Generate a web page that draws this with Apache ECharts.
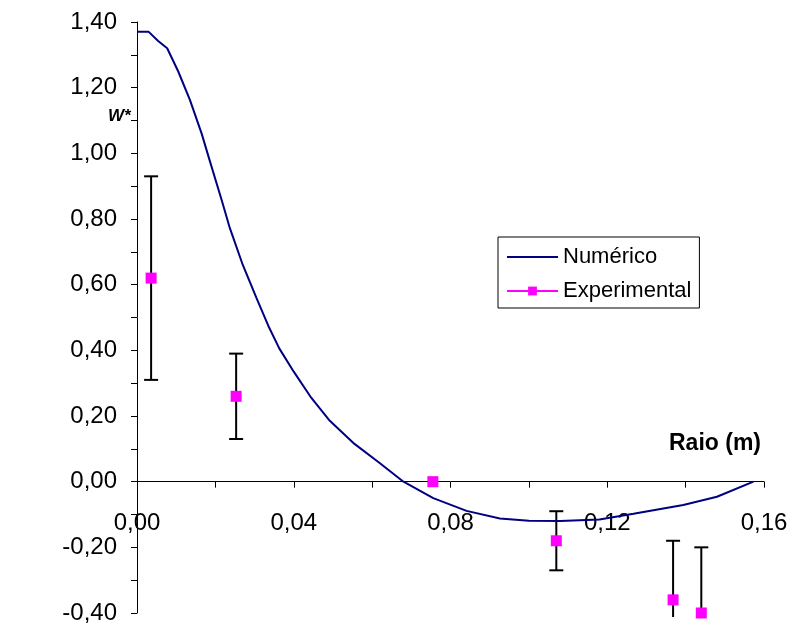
<!DOCTYPE html>
<html>
<head>
<meta charset="utf-8">
<script src="https://cdn.jsdelivr.net/npm/echarts@6/dist/echarts.min.js"></script>
<style>
html,body{margin:0;padding:0;background:#fff;}
#chart{width:792px;height:630px;}
</style>
</head>
<body>
<div id="chart"></div>
<script>
// Numerical curve (Raio in m, W*)
var numX = [0, 0.003, 0.0054, 0.0077, 0.0105, 0.0135, 0.0165, 0.0185, 0.0216, 0.0237, 0.027, 0.0305, 0.0335, 0.0363, 0.040, 0.0445, 0.049, 0.0555, 0.062, 0.068, 0.0756, 0.0841, 0.0926, 0.100, 0.108, 0.118, 0.1267, 0.1394, 0.148, 0.1573];
var numY = [1.37, 1.37, 1.342, 1.32, 1.25, 1.163, 1.06, 0.98, 0.858, 0.772, 0.66, 0.559, 0.475, 0.406, 0.335, 0.255, 0.188, 0.115, 0.056, 0.0, -0.05, -0.089, -0.112, -0.119, -0.12, -0.115, -0.098, -0.071, -0.046, 0.0];
// Experimental points with error (half-width)
var expX = [0.0036, 0.0253, 0.0755, 0.107, 0.1368, 0.144];
var expY = [0.62, 0.26, 0.00, -0.18, -0.36, -0.40];
var expErr = [0.31, 0.13, 0.00, 0.09, 0.18, 0.20];
// Axis ticks
var xTicks = {min: 0, max: 0.16, interval: 0.04};
var yTicks = {min: -0.4, max: 1.4, interval: 0.2};

var numData = numX.map(function (x, i) { return [x, numY[i]]; });
var expData = expX.map(function (x, i) { return [x, expY[i]]; });
var errData = expX.map(function (x, i) { return [x, expY[i] - expErr[i], expY[i] + expErr[i]]; });

function fmt(v) { return v.toFixed(2).replace('.', ','); }

var chart = echarts.init(document.getElementById('chart'), null, {renderer: 'canvas'});
var FONT = 'Liberation Sans, Arial, sans-serif';

chart.setOption({
  animation: false,
  backgroundColor: '#fff',
  grid: {left: 137, right: 28, top: 22, bottom: 17, containLabel: false, outerBoundsMode: 'none'},
  xAxis: {
    type: 'value',
    min: xTicks.min, max: xTicks.max, interval: xTicks.interval,
    axisLine: {onZero: true, lineStyle: {color: '#000', width: 1}},
    axisTick: {show: true, inside: false, length: 6, lineStyle: {color: '#000'}},
    minorTick: {show: true, splitNumber: 2, length: 6, lineStyle: {color: '#000'}},
    splitLine: {show: false},
    axisLabel: {formatter: fmt, color: '#000', fontSize: 24, fontFamily: FONT, margin: -102}
  },
  yAxis: {
    type: 'value',
    min: yTicks.min, max: yTicks.max, interval: yTicks.interval,
    axisLine: {show: true, onZero: false, lineStyle: {color: '#000', width: 1}},
    axisTick: {show: true, inside: false, length: 6, lineStyle: {color: '#000'}},
    minorTick: {show: true, splitNumber: 2, length: 6, lineStyle: {color: '#000'}},
    splitLine: {show: false},
    axisLabel: {formatter: fmt, color: '#000', fontSize: 24, fontFamily: FONT, margin: 20}
  },
  legend: {
    orient: 'vertical',
    left: 498, top: 237,
    padding: [9, 8, 6, 8],
    itemGap: 12,
    itemWidth: 51, itemHeight: 11,
    borderColor: '#000', borderWidth: 1,
    backgroundColor: '#fff',
    textStyle: {fontSize: 22, fontFamily: FONT, color: '#000'},
    data: [
      {name: 'Numérico', itemStyle: {opacity: 0}},
      {name: 'Experimental', lineStyle: {color: '#FF00FF', width: 2, opacity: 1}}
    ]
  },
  graphic: [
    {type: 'text', left: 108, top: 108, style: {text: 'W*', font: 'italic bold 17px ' + FONT, fill: '#000'}},
    {type: 'text', left: 669, top: 432, style: {text: 'Raio (m)', font: 'bold 23px ' + FONT, fill: '#000'}}
  ],
  series: [
    {
      name: 'Numérico',
      type: 'line',
      data: numData,
      smooth: false,
      symbol: 'none',
      lineStyle: {color: '#000080', width: 2},
      itemStyle: {color: '#000080'},
      z: 3
    },
    {
      name: 'errbars',
      type: 'custom',
      data: errData,
      clip: false,
      z: 2,
      renderItem: function (params, api) {
        var x = api.value(0);
        var lo = api.value(1), hi = api.value(2);
        if (hi === lo) return null;
        var cs = params.coordSys;
        var bottomLimit = cs.y + cs.height + 4;
        var pHi = api.coord([x, hi]);
        var pLo = api.coord([x, lo]);
        var loY = pLo[1], loCap = true;
        if (loY > bottomLimit) { loY = bottomLimit; loCap = false; }
        var hw = 7;
        var children = [
          {type: 'line', shape: {x1: pHi[0], y1: pHi[1], x2: pHi[0], y2: loY}, style: {stroke: '#000', lineWidth: 2}},
          {type: 'line', shape: {x1: pHi[0] - hw, y1: pHi[1], x2: pHi[0] + hw, y2: pHi[1]}, style: {stroke: '#000', lineWidth: 2}}
        ];
        if (loCap) {
          children.push({type: 'line', shape: {x1: pLo[0] - hw, y1: loY, x2: pLo[0] + hw, y2: loY}, style: {stroke: '#000', lineWidth: 2}});
        }
        return {type: 'group', children: children};
      }
    },
    {
      name: 'Experimental',
      type: 'line',
      data: expData,
      symbol: 'rect',
      symbolSize: 11,
      showAllSymbol: true,
      lineStyle: {width: 0, opacity: 0, color: '#FF00FF'},
      itemStyle: {color: '#FF00FF'},
      clip: false,
      z: 4
    }
  ]
});
</script>
</body>
</html>
